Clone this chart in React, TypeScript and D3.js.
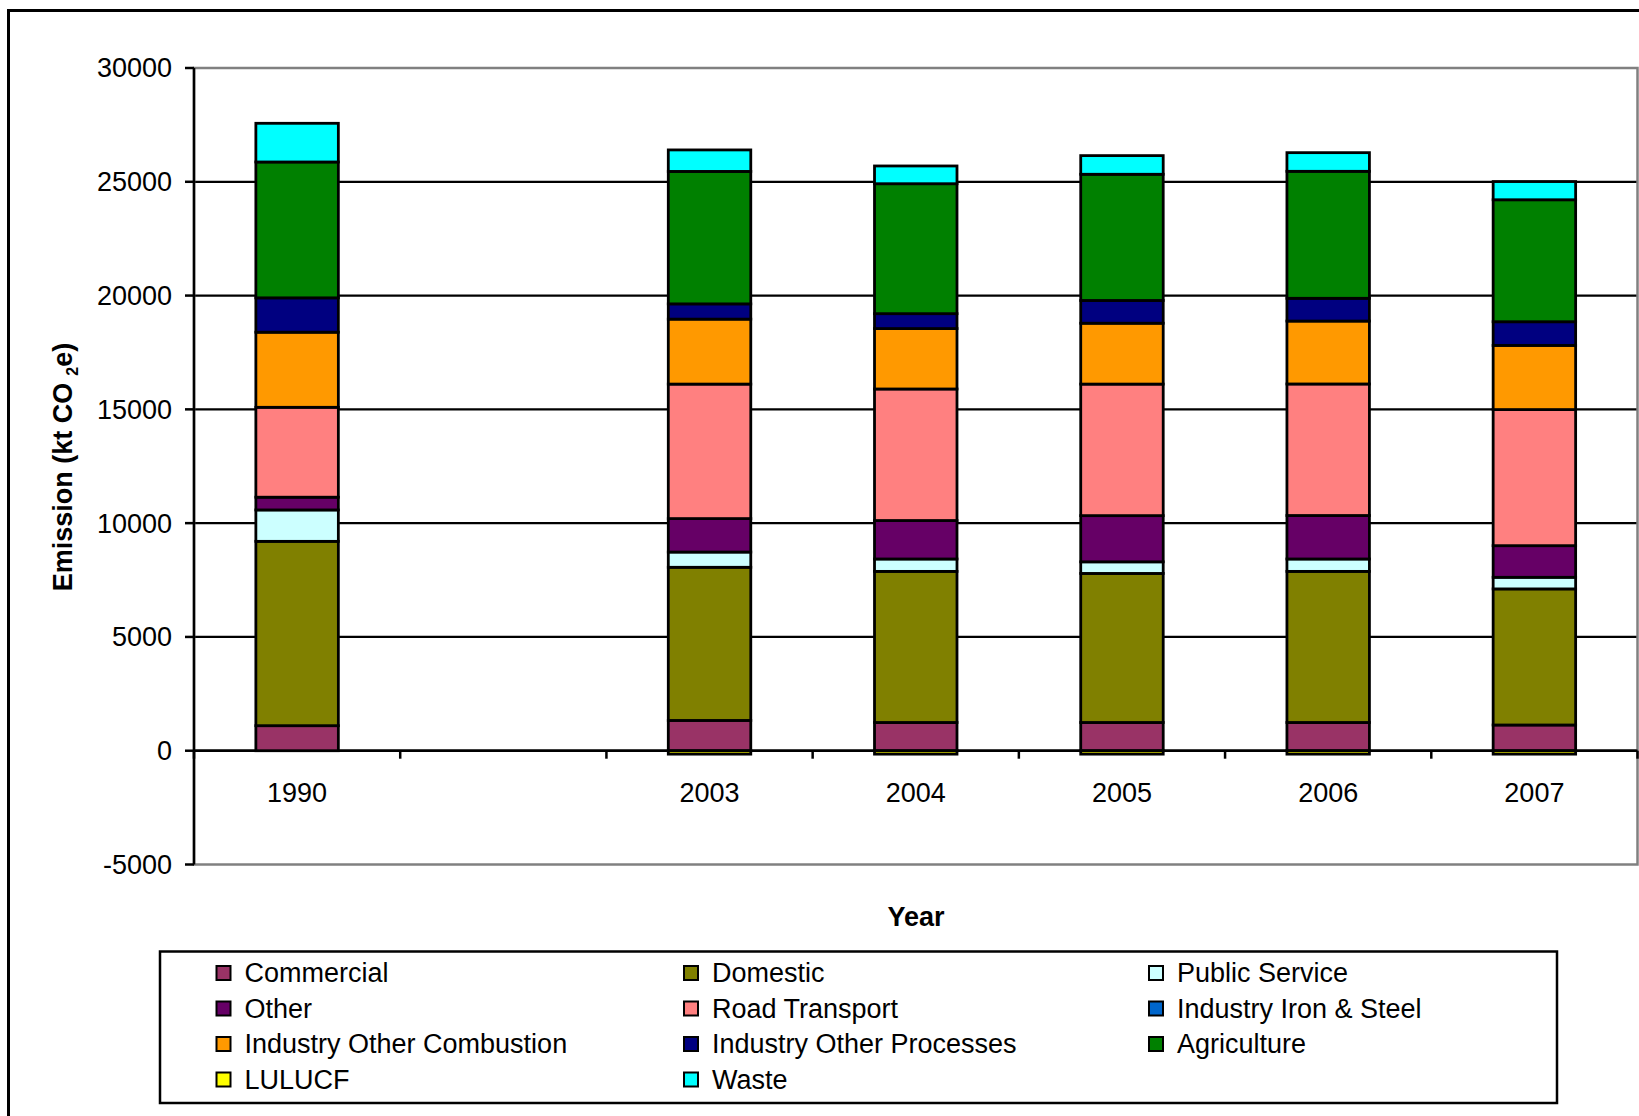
import React from "react";
import * as d3 from "d3";

const categories = ["1990", "", "2003", "2004", "2005", "2006", "2007"];
const seriesNames = [
  "Commercial",
  "Domestic",
  "Public Service",
  "Other",
  "Road Transport",
  "Industry Iron & Steel",
  "Industry Other Combustion",
  "Industry Other Processes",
  "Agriculture",
  "LULUCF",
  "Waste",
];
const seriesColors = [
  "#993366",
  "#808000",
  "#CCFFFF",
  "#660066",
  "#FF8080",
  "#0066CC",
  "#FF9900",
  "#000080",
  "#008000",
  "#FFFF00",
  "#00FFFF",
];
const commercial = [1100, 0, 1330, 1240, 1240, 1240, 1130];
const domestic = [8100, 0, 6730, 6640, 6550, 6640, 5980];
const publicService = [1380, 0, 670, 545, 510, 545, 510];
const other = [560, 0, 1470, 1690, 2030, 1910, 1390];
const roadTransport = [3950, 0, 5910, 5780, 5780, 5780, 5980];
const ironSteel = [0, 0, 0, 0, 0, 0, 0];
const industryOtherCombustion = [3300, 0, 2855, 2655, 2675, 2765, 2820];
const industryOtherProcesses = [1510, 0, 670, 655, 1000, 1000, 1040];
const agriculture = [5970, 0, 5820, 5710, 5545, 5580, 5360];
const lulucf = [0, 0, -150, -150, -150, -150, -150];
const waste = [1700, 0, 945, 780, 820, 820, 800];
const yTicks = [-5000, 0, 5000, 10000, 15000, 20000, 25000, 30000];

const seriesValues = [
  commercial,
  domestic,
  publicService,
  other,
  roadTransport,
  ironSteel,
  industryOtherCombustion,
  industryOtherProcesses,
  agriculture,
  lulucf,
  waste,
];

const W = 1639;
const H = 1116;
const FONT = "'Liberation Sans', Arial, sans-serif";
const FS = 27;

export default function App() {
  const plotLeft = 194;
  const plotRight = 1637.5;
  const plotTop = 68;
  const plotBottom = 864.5;

  const x = d3
    .scaleBand<string>()
    .domain(categories.map((_, i) => String(i)))
    .range([plotLeft, plotRight])
    .paddingInner(0.6)
    .paddingOuter(0.3);
  const step = (plotRight - plotLeft) / categories.length;

  const y = d3.scaleLinear().domain([-5000, 30000]).range([plotBottom, plotTop]);

  const rows = categories.map((c, i) => {
    const r: any = { key: String(i) };
    seriesNames.forEach((s, j) => (r[s] = seriesValues[j][i]));
    return r;
  });
  const stacked = d3
    .stack<any>()
    .keys(seriesNames)
    .offset(d3.stackOffsetDiverging)(rows);

  const legendCols = [217, 684.5, 1149.5];
  const legendRows = [973, 1008.5, 1044, 1079.5];

  return (
    <svg
      width={W}
      height={H}
      style={{ position: "absolute", left: 0, top: 0, background: "#fff" }}
      fontFamily={FONT}
    >
      <rect x={0} y={0} width={W} height={H} fill="#fff" />
      {/* outer chart border (right & bottom off canvas) */}
      <rect x={8.5} y={10.5} width={1700} height={1200} fill="none" stroke="#000" strokeWidth={3} />

      {/* gridlines */}
      {yTicks
        .filter((t) => t > -5000 && t < 30000)
        .map((t) => (
          <line key={t} x1={plotLeft} x2={plotRight} y1={y(t)} y2={y(t)} stroke="#000" strokeWidth={2.3} />
        ))}
      {/* plot area border */}
      <rect
        x={plotLeft}
        y={plotTop}
        width={plotRight - plotLeft}
        height={plotBottom - plotTop}
        fill="none"
        stroke="#808080"
        strokeWidth={2.5}
      />

      {/* y axis */}
      <line x1={plotLeft} x2={plotLeft} y1={plotTop} y2={plotBottom} stroke="#000" strokeWidth={2.5} />
      {yTicks.map((t) => (
        <g key={t}>
          <line x1={plotLeft - 9} x2={plotLeft} y1={y(t)} y2={y(t)} stroke="#000" strokeWidth={2.5} />
          <text x={172} y={y(t)} dy="0.35em" textAnchor="end" fontSize={FS} fill="#000">
            {t}
          </text>
        </g>
      ))}

      {/* x axis at 0 */}
      <line x1={plotLeft} x2={plotRight} y1={y(0)} y2={y(0)} stroke="#000" strokeWidth={2.5} />
      {d3.range(categories.length + 1).map((i) => (
        <line
          key={i}
          x1={plotLeft + i * step}
          x2={plotLeft + i * step}
          y1={y(0)}
          y2={y(0) + 8}
          stroke="#000"
          strokeWidth={2.5}
        />
      ))}
      {categories.map((c, i) => (
        <text
          key={i}
          x={(x(String(i)) as number) + x.bandwidth() / 2}
          y={793}
          dy="0.35em"
          textAnchor="middle"
          fontSize={FS}
          fill="#000"
        >
          {c}
        </text>
      ))}

      {/* bars */}
      {stacked.map((layer, si) => (
        <g key={seriesNames[si]} fill={seriesColors[si]}>
          {layer.map((d, i) => {
            if (categories[i] === "" || seriesValues[si][i] === 0) return null;
            const y0 = y(d[0]);
            const y1 = y(d[1]);
            return (
              <rect
                key={i}
                x={x(String(i))}
                width={x.bandwidth()}
                y={Math.min(y0, y1)}
                height={Math.abs(y1 - y0)}
                stroke="#000"
                strokeWidth={2.8}
              />
            );
          })}
        </g>
      ))}

      {/* axis titles */}
      <text
        transform={`translate(63,467) rotate(-90)`}
        textAnchor="middle"
        dy="0.35em"
        fontSize={FS}
        fontWeight="bold"
        fill="#000"
      >
        Emission (kt CO
        <tspan dx={7} fontSize={16} dy={6}>
          2
        </tspan>
        <tspan dy={-6}>e)</tspan>
      </text>
      <text x={916} y={917} dy="0.35em" textAnchor="middle" fontSize={FS} fontWeight="bold" fill="#000">
        Year
      </text>

      {/* legend */}
      <rect x={160} y={951.5} width={1397} height={151.5} fill="#fff" stroke="#000" strokeWidth={2.5} />
      {seriesNames.map((s, i) => {
        const col = i % 3;
        const row = Math.floor(i / 3);
        const lx = legendCols[col];
        const ly = legendRows[row];
        return (
          <g key={s}>
            <rect x={lx - 0.5} y={ly - 7} width={14} height={14} fill={seriesColors[i]} stroke="#000" strokeWidth={2} />
            <text x={lx + 27.5} y={ly} dy="0.35em" fontSize={FS} fill="#000">
              {s}
            </text>
          </g>
        );
      })}
    </svg>
  );
}
